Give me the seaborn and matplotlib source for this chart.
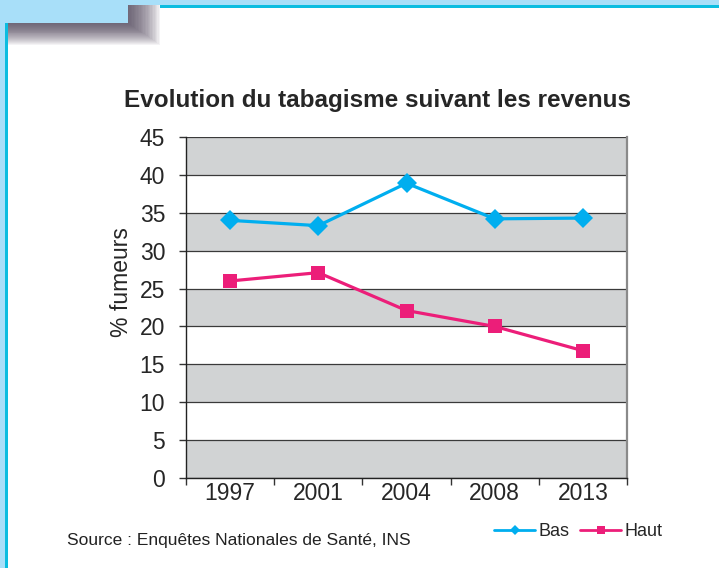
import matplotlib.pyplot as plt
import seaborn as sns
import pandas as pd
from matplotlib.patches import Rectangle
from matplotlib.lines import Line2D

years = ['1997', '2001', '2004', '2008', '2013']
bas = [34.0, 33.3, 38.9, 34.2, 34.3]
haut = [26.0, 27.1, 22.1, 20.0, 16.8]
y_ticks = [0, 5, 10, 15, 20, 25, 30, 35, 40, 45]

blue = '#00AEEF'
pink = '#EC1E79'
band_grey = '#D1D3D4'

df = pd.DataFrame({
    'annee': years * 2,
    'valeur': bas + haut,
    'revenu': ['Bas'] * len(years) + ['Haut'] * len(years),
})

sns.set_style('white')
plt.rcParams['font.family'] = ['Liberation Sans', 'DejaVu Sans']

W, H = 719, 568
fig = plt.figure(figsize=(W / 100, H / 100), dpi=100)


def px(x0, y0, x1, y1):
    # rectangle in pixel coords (top-left origin) -> figure fractions
    return (x0 / W, 1 - y1 / H), (x1 - x0) / W, (y1 - y0) / H


# decorative frame with soft shadow under the top-left tab
for i in range(24):
    xy, w, h = px(0, 0, 128 + i * 1.4, 23 + i * 0.95)
    fig.patches.append(Rectangle(xy, w, h, transform=fig.transFigure,
                                 color='#4A3F55', alpha=0.06, lw=0, zorder=1))
xy, w, h = px(0, 0, W, 5)
fig.patches.append(Rectangle(xy, w, h, transform=fig.transFigure, color='#A8DFF9', lw=0, zorder=2))
xy, w, h = px(160, 5, W, 7.5)
fig.patches.append(Rectangle(xy, w, h, transform=fig.transFigure, color='#0BBDE0', lw=0, zorder=2))
xy, w, h = px(0, 23, 5, H)
fig.patches.append(Rectangle(xy, w, h, transform=fig.transFigure, color='#A8DFF9', lw=0, zorder=2))
xy, w, h = px(5, 23, 7.5, H)
fig.patches.append(Rectangle(xy, w, h, transform=fig.transFigure, color='#0BBDE0', lw=0, zorder=2))
xy, w, h = px(0, 0, 128, 23)
fig.patches.append(Rectangle(xy, w, h, transform=fig.transFigure, color='#A8DFF9', lw=0, zorder=3))

ax = fig.add_axes([186 / W, 1 - 478 / H, (627 - 186) / W, (478 - 137) / H])
ax.set_facecolor('white')

for lo in y_ticks[::2]:
    ax.axhspan(lo, lo + 5, color=band_grey, lw=0, zorder=0)

sns.lineplot(data=df, x='annee', y='valeur', hue='revenu', style='revenu',
             palette={'Bas': blue, 'Haut': pink},
             markers={'Bas': 'D', 'Haut': 's'}, dashes=False,
             lw=2.3, markersize=10, markeredgewidth=0, legend=False, ax=ax, zorder=3)

ax.set_ylim(0, 45)
ax.set_xlim(-0.5, 4.5)
ax.set_yticks(y_ticks)
ax.yaxis.grid(True, color='#3A3A3A', lw=0.9)
ax.set_axisbelow(True)
ax.set_xticks([i - 0.5 for i in range(len(years) + 1)], labels=[''] * (len(years) + 1))
ax.set_xticks(range(len(years)), labels=years, minor=True)
ax.tick_params(axis='x', which='major', direction='out', length=5, width=1, color='#333333', bottom=True)
ax.tick_params(axis='x', which='minor', length=0, pad=3, labelsize=16.5)
ax.tick_params(axis='y', direction='out', length=5, width=1, color='#333333', left=True, pad=10, labelsize=16.5)
ax.set_xlabel('')
ax.set_ylabel('')

for side in ['left', 'bottom']:
    ax.spines[side].set_color('#222222')
    ax.spines[side].set_linewidth(1)
ax.spines['right'].set_color('#8A8A8A')
ax.spines['right'].set_linewidth(1.6)
ax.spines['top'].set_visible(False)

fig.text(378 / W, 1 - 100 / H, 'Evolution du tabagisme suivant les revenus',
         ha='center', va='center', fontsize=17.5, fontweight='bold')
fig.text(121 / W, 1 - 282 / H, '% fumeurs', rotation=90, ha='center', va='center', fontsize=16.5)
fig.text(67 / W, 1 - 541 / H, 'Source : Enquêtes Nationales de Santé, INS',
         ha='left', va='center', fontsize=12.5, color='#222222')

handles = [Line2D([], [], color=blue, lw=2, marker='D', markersize=5, markeredgewidth=0),
           Line2D([], [], color=pink, lw=2, marker='s', markersize=6, markeredgewidth=0)]
fig.legend(handles, ['Bas', 'Haut'], loc='center', bbox_to_anchor=(578 / W, 1 - 532 / H),
           ncol=2, frameon=False, fontsize=13, handlelength=2.3, handletextpad=0.15,
           columnspacing=0.6, borderpad=0)

fig.savefig('out.png', dpi=100)
